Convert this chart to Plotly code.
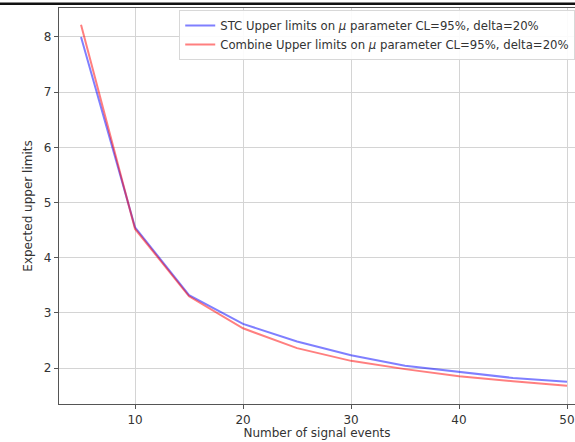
import plotly.graph_objects as go

# Number of signal events and expected upper limits on mu
signal_events = [5, 10, 15, 20, 25, 30, 35, 40, 45, 50]
stc_limits = [8.00, 4.55, 3.32, 2.80, 2.48, 2.23, 2.04, 1.93, 1.82, 1.75]
combine_limits = [8.22, 4.52, 3.30, 2.72, 2.36, 2.13, 1.98, 1.85, 1.76, 1.68]

x_ticks = [10, 20, 30, 40, 50]
y_ticks = [2, 3, 4, 5, 6, 7, 8]

font_family = "DejaVu Sans, sans-serif"
text_color = "#333333"

fig = go.Figure()
fig.add_trace(go.Scatter(
    x=signal_events, y=stc_limits, mode="lines",
    line=dict(color="rgba(0,0,255,0.5)", width=2),
    name="STC Upper limits on <i>μ</i> parameter CL=95%, delta=20%",
))
fig.add_trace(go.Scatter(
    x=signal_events, y=combine_limits, mode="lines",
    line=dict(color="rgba(255,0,0,0.5)", width=2),
    name="Combine Upper limits on <i>μ</i> parameter CL=95%, delta=20%",
))

axis_common = dict(
    showgrid=True, gridcolor="#d4d4d4", gridwidth=1,
    showline=True, linecolor="#555555", linewidth=1.2,
    ticks="outside", ticklen=4, tickcolor="#555555", tickwidth=1,
    tickfont=dict(family=font_family, size=12, color=text_color),
    zeroline=False,
)

fig.update_layout(
    width=575, height=442,
    margin=dict(l=59, r=0, t=8, b=38, autoexpand=False),
    paper_bgcolor="white", plot_bgcolor="white",
    font=dict(family=font_family, size=12, color=text_color),
    xaxis=dict(
        range=[2.96, 50.74], tickvals=x_ticks, mirror=True,
        title=dict(text="Number of signal events", standoff=3,
                   font=dict(family=font_family, size=12, color=text_color)),
        **axis_common,
    ),
    yaxis=dict(
        range=[1.348, 8.525], tickvals=y_ticks, mirror=False,
        title=dict(text="Expected upper limits", standoff=8,
                   font=dict(family=font_family, size=12, color=text_color)),
        **axis_common,
    ),
    legend=dict(
        x=0.233, y=0.995, xanchor="left", yanchor="top",
        bgcolor="rgba(255,255,255,0.9)", bordercolor="#d8d8d8", borderwidth=1,
        font=dict(family=font_family, size=11.7, color=text_color),
        tracegroupgap=2, itemwidth=30,
    ),
    showlegend=True,
)

# Dark rule across the top of the page
fig.add_shape(type="line", xref="paper", yref="paper",
              x0=-0.2, x1=1.2, y0=1.011, y1=1.011,
              line=dict(color="#111111", width=2.5))

fig.write_html("out.html")
